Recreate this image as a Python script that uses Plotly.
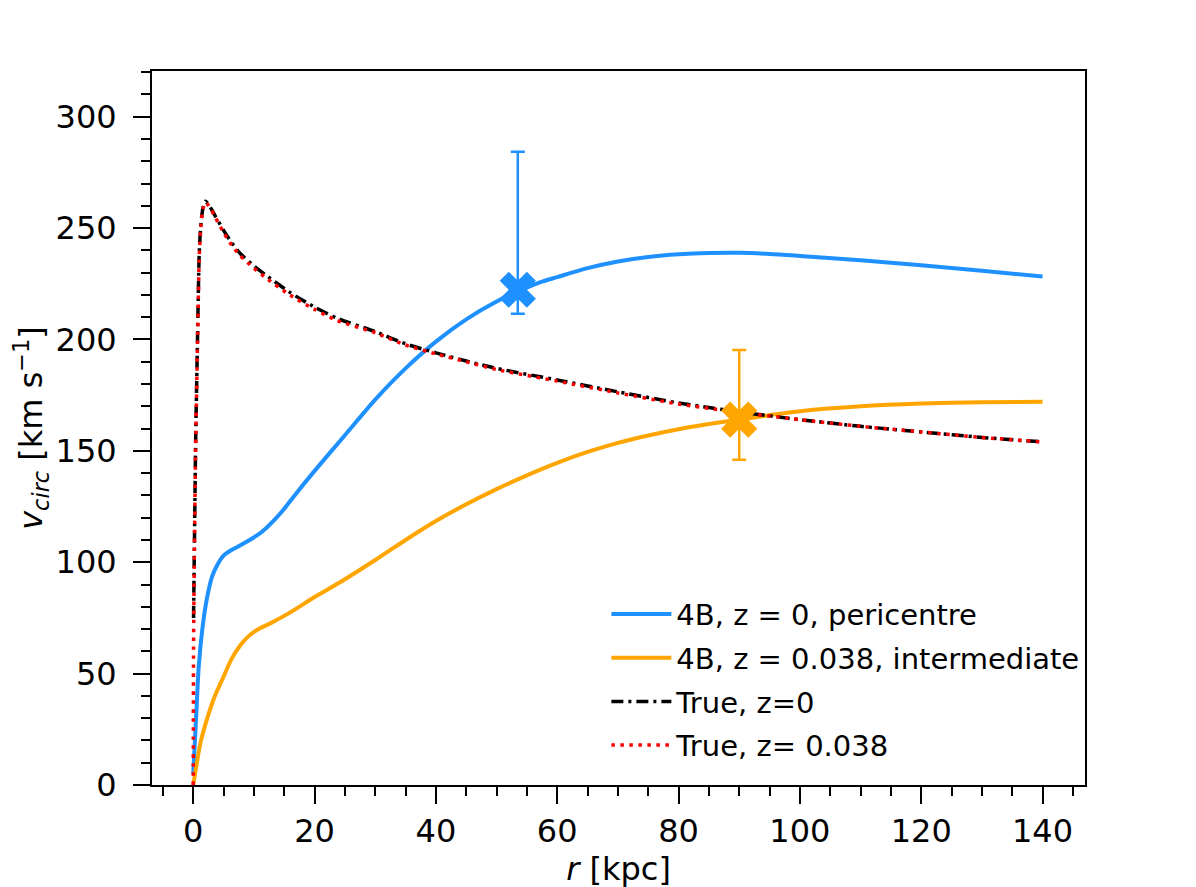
import plotly.graph_objects as go

# circular velocity curves
r_4b_z0 = [0.0, 0.5, 0.9, 1.5, 2.2, 3.1, 4.0, 5.0, 6.3, 7.7, 9.0, 10.5, 12, 13.5, 15, 17,
           20, 25, 30, 35, 40, 45, 50, 53.5, 57, 60, 65, 70, 75, 80, 85, 90, 95, 100,
           110, 120, 130, 140]
v_4b_z0 = [5, 32, 53, 70, 83, 93.5, 99, 103, 105.5, 107.5, 109.5, 112, 115.3, 119.3, 124, 131,
           141, 157, 173, 187, 199, 209, 217, 221.5, 225.5, 228, 232, 235, 237, 238.2, 238.8,
           238.9, 238.4, 237.5, 235.5, 233.3, 230.8, 228.3]

r_4b_z038 = [0.0, 0.6, 1.2, 2.2, 3.5, 5.0, 6.3, 7.7, 9.0, 10.5, 13, 16, 20, 24.2, 30, 35,
             40, 45, 50, 55, 60, 65, 70, 75, 80, 85, 90, 95, 100, 110, 120, 130, 140]
v_4b_z038 = [0, 10, 19, 29, 39.5, 48.6, 56.5, 62.5, 66.5, 69.6, 73, 77.5, 84.4, 91, 101, 110,
             118.5, 126, 132.8, 139, 144.6, 149.5, 153.6, 156.9, 159.7, 162, 164, 166, 167.8,
             170, 171.2, 171.8, 172]

r_true_z0 = [0.05, 0.2, 0.4, 0.7, 1.0, 1.3, 1.6, 2.0, 2.4, 3.0, 3.6, 5.0, 6.3, 7.7, 10,
             11.9, 16, 20, 23.7, 30, 35, 40, 45, 50, 60, 70, 80, 90, 100, 110, 120, 130, 140]
v_true_z0 = [75, 110, 155, 200, 240, 253, 259, 262, 261, 258.5, 255.5, 249, 243.5, 238.7, 233,
             229, 221, 214.5, 209.5, 203.5, 198, 194, 190.3, 187, 181.8, 176.5, 171.5, 167.5,
             164, 161, 158.5, 156, 154]

r_true_z038 = [0.0, 0.05, 0.2, 0.4, 0.7, 1.0, 1.3, 1.6, 2.0, 2.4, 3.0, 3.6, 5.0, 6.3, 7.7, 10,
               11.9, 16, 20, 23.7, 30, 35, 40, 45, 50, 60, 70, 80, 90, 100, 110, 120, 130, 140]
v_true_z038 = [0, 62, 108, 153, 198, 238, 252, 258.5, 261.5, 260.5, 258, 255, 248, 242.5, 237.7,
               232, 227.8, 219.8, 213.5, 208.5, 203, 197.5, 193.5, 190, 186.5, 181.3, 176, 171,
               167.3, 164, 161, 158.5, 156, 154]

# pericentre / intermediate estimates with asymmetric errors
est_r = [53.5, 90.0]
est_v = [222.3, 164.0]
est_err_up = [61.9, 31.3]
est_err_dn = [10.8, 18.0]

BLUE = "#1e90ff"
ORANGE = "#ffa500"

fig = go.Figure()

fig.add_trace(go.Scatter(x=r_4b_z0, y=v_4b_z0, mode="lines", legendgroup="a",
                         line=dict(color=BLUE, width=4, shape="spline", smoothing=0.8),
                         name="4B, z = 0, pericentre"))
fig.add_trace(go.Scatter(x=r_4b_z038, y=v_4b_z038, mode="lines", legendgroup="b",
                         line=dict(color=ORANGE, width=4, shape="spline", smoothing=0.8),
                         name="4B, z = 0.038, intermediate"))
fig.add_trace(go.Scatter(x=r_true_z0, y=v_true_z0, mode="lines", legendgroup="c",
                         line=dict(color="black", width=3.5, dash="12px,5px,3px,5px",
                                   shape="spline", smoothing=0.6),
                         name="True, z=0"))
fig.add_trace(go.Scatter(x=r_true_z038, y=v_true_z038, mode="lines", legendgroup="d",
                         line=dict(color="red", width=3.5, dash="3.5px,5.5px",
                                   shape="spline", smoothing=0.6),
                         name="True, z= 0.038"))

for i, col in enumerate([BLUE, ORANGE]):
    fig.add_trace(go.Scatter(
        x=[est_r[i]], y=[est_v[i]], mode="markers",
        marker=dict(symbol="x", size=32, color=col, line=dict(width=0)),
        error_y=dict(type="data", symmetric=False, array=[est_err_up[i]],
                     arrayminus=[est_err_dn[i]], color=col, thickness=2.5, width=7),
        showlegend=False))

axis_common = dict(
    showline=True, linecolor="black", linewidth=2, mirror=True,
    ticks="outside", ticklen=17, tickwidth=2, tickcolor="black",
    showgrid=False, zeroline=False,
    tickfont=dict(family="DejaVu Sans", size=32, color="black"),
)

fig.update_xaxes(
    range=[-6.8, 147], tick0=0, dtick=20,
    minor=dict(dtick=5, ticks="outside", ticklen=9, tickwidth=1.5, tickcolor="black"),
    title=dict(text="<i>r</i> [kpc]", font=dict(family="DejaVu Sans", size=32, color="black"),
               standoff=2),
    **axis_common)
fig.update_yaxes(
    range=[0, 320.5], tick0=0, dtick=50, ticklabelstandoff=10,
    minor=dict(dtick=10, ticks="outside", ticklen=9, tickwidth=1.5, tickcolor="black"),
    title=dict(text="<i>v<sub>circ</sub></i> [km s<sup>−1</sup>]",
               font=dict(family="DejaVu Sans", size=32, color="black"), standoff=4),
    **axis_common)

fig.update_layout(
    width=1196, height=887,
    margin=dict(l=144, r=119, t=63, b=110),
    plot_bgcolor="white", paper_bgcolor="white",
    font=dict(family="DejaVu Sans", color="black"),
    legend=dict(x=0.487, y=0.275, xanchor="left", yanchor="top",
                bgcolor="rgba(255,255,255,0)", borderwidth=0,
                font=dict(family="DejaVu Sans", size=29, color="black"),
                itemwidth=60, tracegroupgap=3),
)

fig.write_html("out.html")
